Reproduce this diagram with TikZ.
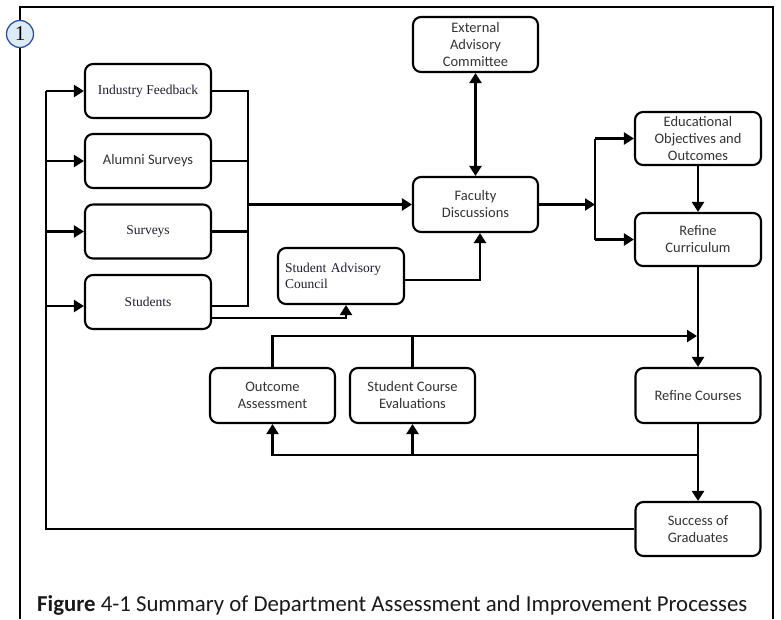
\documentclass[tikz,border=0pt]{standalone}
\usepackage{fontspec}
\setmainfont{Liberation Serif}
\newfontfamily\calib{Carlito}
\usetikzlibrary{arrows.meta}
\definecolor{sanstext}{HTML}{333333}
\definecolor{seriftext}{HTML}{1E1E30}
\definecolor{circfill}{HTML}{DDEBF7}
\definecolor{circdraw}{HTML}{2E5496}
\tikzset{
  box/.style={draw, line width=2.1pt, rounded corners=8pt, minimum width=126pt, minimum height=54pt, inner sep=2pt, align=center},
  sbox/.style={box, font=\calib\fontsize{14.5}{17}\selectfont, text=sanstext},
  tbox/.style={box, font=\fontsize{13.5}{16}\selectfont, text=seriftext},
  conn/.style={line width=2.2pt},
  arr/.style={conn, -{Triangle[length=10pt,width=12pt]}},
  darr/.style={conn, {Triangle[length=10pt,width=12pt]}-{Triangle[length=10pt,width=12pt]}},
}
\begin{document}
\begin{tikzpicture}[x=1pt,y=-1pt]
\useasboundingbox (0,0) rectangle (781,619);
% frame
\draw[line width=1.6pt] (20,619) -- (20,7) -- (773,7) -- (773,619);
\node[circle, draw=circdraw, fill=circfill, line width=1.3pt, minimum size=27pt, inner sep=0pt, font=\fontsize{21}{23}\selectfont] (num) at (20,34) {1};

% nodes
\node[tbox] (ind) at (148,91) {Industry Feedback};
\node[sbox] (alu) at (148,161) {Alumni Surveys};
\node[tbox] (sur) at (148,231.5) {Surveys};
\node[tbox] (stu) at (148,302) {Students};
\node[sbox, minimum width=125pt, minimum height=55pt] (ext) at (475.5,44.5) {External\\Advisory\\Committee};
\node[sbox, minimum width=125pt, minimum height=55pt] (fac) at (475.5,204.5) {Faculty\\Discussions};
\node[tbox, minimum height=56pt, text width=112pt, align=left] (sac) at (341,276) {Student Advisory\\Council};
\node[sbox, minimum height=53pt] (edu) at (698,138.5) {Educational\\Objectives and\\Outcomes};
\node[sbox, minimum height=53pt] (rcu) at (698,239.5) {Refine\\Curriculum};
\node[sbox, minimum width=125pt, minimum height=55pt] (rco) at (698,395.5) {Refine Courses};
\node[sbox, minimum width=125pt, minimum height=55pt] (oa) at (272.5,395.5) {Outcome\\Assessment};
\node[sbox, minimum width=125pt, minimum height=55pt] (sce) at (412.5,395.5) {Student Course\\Evaluations};
\node[sbox, minimum width=125pt, minimum height=54pt] (sog) at (698,529) {Success of\\Graduates};

% coordinates
\coordinate (lb) at (46,529);
\coordinate (rb) at (248,91);
\coordinate (bk) at (595,204.5);
\coordinate (tp) at (272.5,336);
\coordinate (bt) at (272.5,455);
\coordinate (stw) at ([yshift=-4pt]stu.west);
\coordinate (ste) at ([yshift=-4pt]stu.east);
\coordinate (stl) at ([yshift=-16pt]stu.east);
\coordinate (sacs) at ([xshift=5pt]sac.south);
\coordinate (sace) at ([yshift=-4pt]sac.east);
\coordinate (facs) at ([xshift=4.5pt]fac.south);

% left feedback loop
\draw[conn] (sog.west) -- (lb) -- (lb |- ind.west);
\draw[arr] (lb |- ind.west) -- (ind.west);
\draw[arr] (lb |- alu.west) -- (alu.west);
\draw[arr] (lb |- sur.west) -- (sur.west);
\draw[arr] (lb |- stw) -- (stw);

% right bus
\draw[conn] (ind.east) -- (rb) -- (rb |- ste) -- (ste);
\draw[conn] (alu.east) -- (rb |- alu.east);
\draw[conn] (sur.east) -- (rb |- sur.east);
\draw[arr] (rb |- fac.west) -- (fac.west);

% students to SAC
\draw[arr] (stl) -| (sacs);
% SAC to faculty
\draw[arr] (sace) -| (facs);
% external <-> faculty
\draw[darr] (ext.south) -- (fac.north);

% faculty to bracket
\draw[arr] (fac.east) -- (bk);
\draw[conn] (bk |- edu.west) -- (bk |- rcu.west);
\draw[arr] (bk |- edu.west) -- (edu.west);
\draw[arr] (bk |- rcu.west) -- (rcu.west);

\draw[arr] (edu.south) -- (rcu.north);
\draw[arr] (rcu.south) -- (rco.north);

% top feedback line
\draw[arr] (oa.north) |- ([xshift=-1pt]rco.north |- tp);
\draw[conn] (sce.north) -- (sce.north |- tp);

% bottom line
\draw[arr] (rco.south) -- (sog.north);
\draw[arr] (rco.south |- bt) -| (oa.south);
\draw[arr] (sce.south |- bt) -- (sce.south);

% caption
\node[font=\calib\fontsize{22.8}{25}\selectfont, text=black!90, anchor=base west, inner sep=0pt] (cap) at (37,611) {\textbf{Figure} 4-1 Summary of Department Assessment and Improvement Processes};
\end{tikzpicture}
\end{document}
